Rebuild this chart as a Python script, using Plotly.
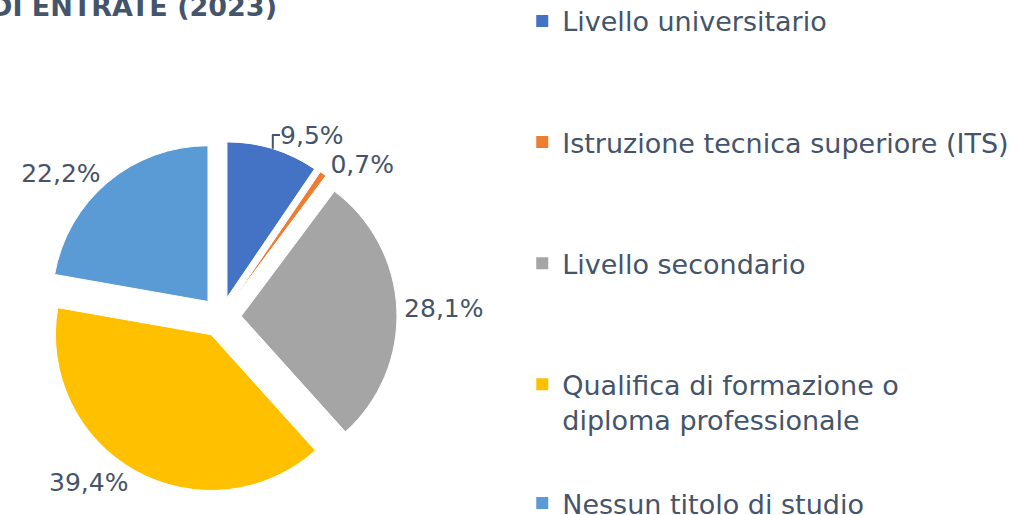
import plotly.graph_objects as go

categories = [
    "Livello universitario",
    "Istruzione tecnica superiore (ITS)",
    "Livello secondario",
    "Qualifica di formazione o<br>diploma professionale",
    "Nessun titolo di studio",
]
values = [9.5, 0.7, 28.1, 39.4, 22.2]
colors = ["#4472C4", "#ED7D31", "#A5A5A5", "#FFC000", "#5B9BD5"]
title_text = "DI ENTRATE (2023)"

TEXT = "#44546A"
FONT = "DejaVu Sans"

fig = go.Figure()
fig.add_trace(go.Pie(
    labels=categories,
    values=values,
    sort=False,
    direction="clockwise",
    rotation=0,
    pull=[0.13] * len(values),
    marker=dict(colors=colors, line=dict(color="white", width=1)),
    textposition="outside",
    texttemplate="%{value:.1f}%",
    textfont=dict(family=FONT, size=25, color=TEXT),
    showlegend=False,
    domain=dict(x=[45 / 1020, 397 / 1020], y=[1 - 493 / 515, 1 - 141 / 515]),
    hoverinfo="label+percent",
))

for i, (cat, col) in enumerate(zip(categories, colors)):
    fig.add_trace(go.Scatter(
        x=[None], y=[None], mode="markers",
        marker=dict(symbol="square", size=12, color=col),
        name=cat, legendgroup=f"g{i}",
        legend="legend2" if i == len(categories) - 1 else "legend",
        hoverinfo="skip",
    ))

fig.update_layout(
    width=1020, height=515,
    margin=dict(l=0, r=0, t=0, b=0, autoexpand=False),
    paper_bgcolor="white", plot_bgcolor="white",
    separators=",.",
    xaxis=dict(visible=False), yaxis=dict(visible=False),
    legend=dict(
        x=0.512, y=1.006, xanchor="left", yanchor="top", maxheight=1,
        font=dict(family=FONT, size=27, color=TEXT),
        tracegroupgap=83, valign="top", bgcolor="rgba(0,0,0,0)",
    ),
    legend2=dict(
        x=0.512, y=1 - 479 / 515, xanchor="left", yanchor="top", maxheight=1,
        font=dict(family=FONT, size=27, color=TEXT),
        valign="top", bgcolor="rgba(0,0,0,0)",
    ),
    annotations=[dict(
        text=f"<b>{title_text}</b>", xref="paper", yref="paper",
        x=0, y=1, xanchor="left", yanchor="bottom", xshift=-12, yshift=-24,
        showarrow=False, font=dict(family=FONT, size=27, color=TEXT),
    )],
)

fig.write_html(
    "out.html",
    config={"displayModeBar": False},
    post_script="document.body.style.margin='0';document.body.style.overflow='hidden';",
)
